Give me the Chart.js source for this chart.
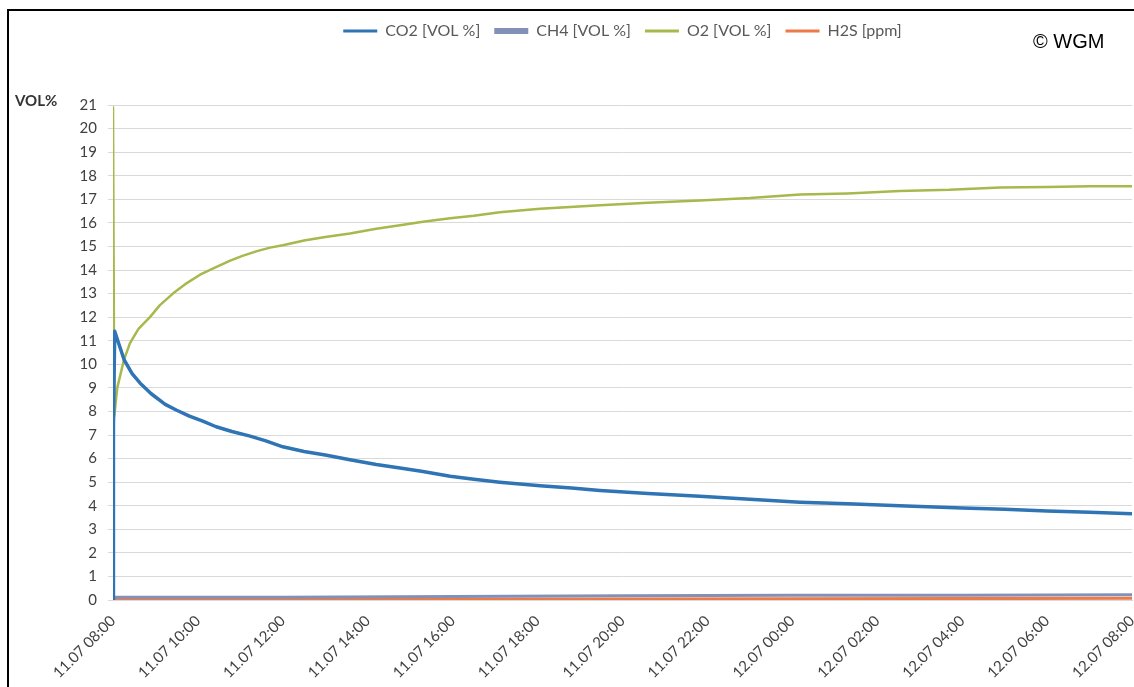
<!DOCTYPE html>
<html>
<head>
<meta charset="utf-8">
<script src="https://cdn.jsdelivr.net/npm/chart.js@4.4.1/dist/chart.umd.min.js"></script>
<style>
  html, body { margin: 0; padding: 0; background: #fff; }
  canvas { display: block; }
</style>
</head>
<body>
<canvas id="gas" width="1134" height="687"></canvas>
<script>
// Gas concentrations over 24 h, time in hours after 11.07 08:00
const xTickLabels = [
  '11.07 08:00', '11.07 10:00', '11.07 12:00', '11.07 14:00', '11.07 16:00',
  '11.07 18:00', '11.07 20:00', '11.07 22:00', '12.07 00:00', '12.07 02:00',
  '12.07 04:00', '12.07 06:00', '12.07 08:00'
];
const seriesNames = ['CO2 [VOL %]', 'CH4 [VOL %]', 'O2 [VOL %]', 'H2S [ppm]'];

const co2Hours = [0, 0.01, 0.04, 0.15, 0.26, 0.45, 0.64, 0.9, 1.23, 1.5,
  1.8, 2.1, 2.43, 2.8, 3.23, 3.6, 4.0, 4.5, 5.0, 5.58,
  6.2, 6.76, 7.3, 7.94, 8.5, 9.11, 10.06, 10.8, 11.47, 12.6,
  13.82, 15.0, 16.18, 17.3, 18.53, 20.0, 21.0, 22.0, 23.0, 24.0];
const co2Values = [0, 7.3, 11.4, 10.8, 10.2, 9.6, 9.2, 8.75, 8.3, 8.05,
  7.8, 7.6, 7.35, 7.15, 6.95, 6.75, 6.5, 6.3, 6.15, 5.95,
  5.75, 5.6, 5.45, 5.25, 5.12, 5.0, 4.85, 4.75, 4.65, 4.52,
  4.4, 4.27, 4.15, 4.08, 4.0, 3.9, 3.85, 3.78, 3.72, 3.66];

const o2Hours = [0, 0.03, 0.1, 0.26, 0.4, 0.6, 0.87, 1.1, 1.41, 1.7,
  2.05, 2.4, 2.76, 3.05, 3.39, 3.7, 4.0, 4.5, 5.0, 5.58,
  6.2, 6.76, 7.3, 7.94, 8.5, 9.11, 10.06, 11.47, 12.6, 13.82,
  15.0, 16.18, 17.3, 18.53, 19.7, 20.9, 22.0, 23.0, 24.0];
const o2Values = [20.9, 7.8, 9.0, 10.2, 10.9, 11.5, 12.0, 12.5, 13.0, 13.4,
  13.8, 14.1, 14.4, 14.6, 14.8, 14.95, 15.05, 15.25, 15.4, 15.55,
  15.75, 15.9, 16.05, 16.2, 16.3, 16.45, 16.6, 16.75, 16.85, 16.95,
  17.05, 17.2, 17.25, 17.35, 17.4, 17.5, 17.52, 17.55, 17.55];

const ch4Hours = [0, 4, 8, 12, 16, 20, 24];
const ch4Values = [0.12, 0.12, 0.15, 0.18, 0.2, 0.2, 0.22];

const h2sHours = [0, 4, 8, 12, 16, 20, 24];
const h2sValues = [0.02, 0.02, 0.03, 0.04, 0.05, 0.06, 0.07];

const toPoints = (xs, ys) => xs.map((x, i) => ({ x: x, y: ys[i] }));

const FONT = 'Lato, "Open Sans", sans-serif';
const legendStroke = [3, 6, 3, 3];

const decorations = {
  id: 'decorations',
  beforeLayout(chart) {
    const lg = chart.legend;
    if (lg && !lg._tallFit) {
      const fit = lg.fit.bind(lg);
      lg.fit = function () { fit(); this.height = 96; };
      lg._tallFit = true;
    }
  },
  afterLayout(chart) {
    // centre the legend over the plot area
    const lg = chart.legend, ca = chart.chartArea;
    if (lg) { lg.left = ca.left; lg.right = ca.right; lg.width = ca.right - ca.left; }
  },
  afterDraw(chart) {
    const ctx = chart.ctx;
    ctx.save();
    // frame
    ctx.strokeStyle = '#000';
    ctx.lineWidth = 2;
    ctx.beginPath();
    ctx.moveTo(8, 687);
    ctx.lineTo(8, 10);
    ctx.lineTo(1134, 10);
    ctx.stroke();
    // axis unit
    ctx.fillStyle = '#333';
    ctx.font = 'bold 15px ' + FONT;
    ctx.textAlign = 'left';
    ctx.textBaseline = 'middle';
    ctx.fillText('VOL%', 15, 101);
    // copyright
    ctx.fillStyle = '#000';
    ctx.font = '20px "Liberation Sans", Arial, sans-serif';
    ctx.fillText('\u00A9 WGM', 1033, 42);
    ctx.restore();
  }
};

new Chart(document.getElementById('gas'), {
  type: 'line',
  data: {
    datasets: [
      { label: seriesNames[0], data: toPoints(co2Hours, co2Values),
        borderColor: '#2f74b5', backgroundColor: '#2f74b5', borderWidth: 3.5 },
      { label: seriesNames[1], data: toPoints(ch4Hours, ch4Values),
        borderColor: '#8391b8', backgroundColor: '#8391b8', borderWidth: 3 },
      { label: seriesNames[2], data: toPoints(o2Hours, o2Values),
        borderColor: '#a6b94c', backgroundColor: '#a6b94c', borderWidth: 2.5 },
      { label: seriesNames[3], data: toPoints(h2sHours, h2sValues),
        borderColor: '#ee7a47', backgroundColor: '#ee7a47', borderWidth: 3 }
    ]
  },
  options: {
    responsive: false,
    animation: false,
    devicePixelRatio: 1,
    elements: { point: { radius: 0 }, line: { tension: 0, borderJoinStyle: 'round', borderCapStyle: 'round' } },
    layout: { padding: { top: 9, right: 2, left: 0, bottom: 0 } },
    plugins: {
      tooltip: { enabled: false },
      legend: {
        position: 'top',
        labels: {
          usePointStyle: true,
          pointStyleWidth: 34,
          boxHeight: 14,
          padding: 14,
          color: '#595959',
          font: { family: FONT, size: 16 },
          generateLabels(chart) {
            const items = Chart.defaults.plugins.legend.labels.generateLabels(chart);
            items.forEach((it, i) => { it.pointStyle = 'line'; it.lineWidth = legendStroke[i]; });
            return items;
          }
        }
      }
    },
    scales: {
      x: {
        type: 'linear',
        min: 0,
        max: 24,
        grid: { display: false },
        border: { display: true, color: '#d9d9d9' },
        ticks: {
          stepSize: 2,
          autoSkip: false,
          maxRotation: 45,
          minRotation: 45,
          padding: 4,
          color: '#404040',
          font: { family: FONT, size: 15 },
          callback: (v) => xTickLabels[Math.round(v / 2)]
        },
        afterFit(s) { s.height = 87; s.paddingLeft = 0; s.paddingRight = 0; }
      },
      y: {
        min: 0,
        max: 21,
        grid: { color: '#d9d9d9', tickLength: 5 },
        border: { display: false },
        ticks: {
          stepSize: 1,
          padding: 11,
          color: '#404040',
          font: { family: FONT, size: 15 }
        },
        afterFit(s) { s.width = 113; s.paddingTop = 0; s.paddingBottom = 0; }
      }
    }
  },
  plugins: [decorations]
});
</script>
</body>
</html>
